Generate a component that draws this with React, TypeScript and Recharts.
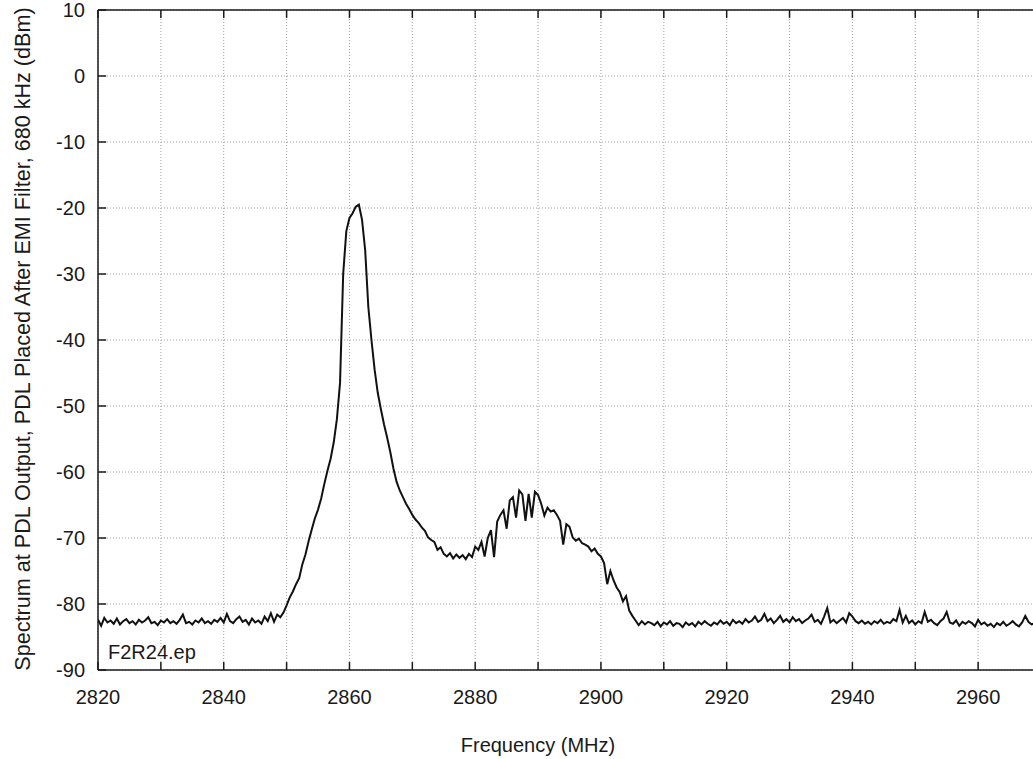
import React from 'react';
import { LineChart, Line, XAxis, YAxis, CartesianGrid, ReferenceLine } from 'recharts';

// sweep step of the analyser trace, MHz
const STEP = 0.5;

// 2820.0 .. 2848.5 MHz, noise floor before the main line
const baselineLow = [
  -82.4, -83.3, -82.1, -82.8, -82.5, -83.0, -82.2, -83.1, -82.6, -82.3,
  -82.9, -82.6, -83.1, -82.4, -82.8, -82.5, -82.0, -82.9, -82.7, -83.2,
  -82.5, -82.8, -82.3, -82.9, -82.6, -83.0, -82.4, -81.6, -82.9, -82.7,
  -83.1, -82.5, -82.8, -82.2, -82.9, -82.6, -83.0, -82.4, -82.7, -82.1,
  -82.8, -81.5, -82.6, -82.9, -82.3, -81.9, -82.7, -82.4, -83.1, -82.2,
  -82.8, -82.5, -83.0, -81.9, -82.6, -81.4, -82.7, -81.6,
];

// 2849.0 .. 2875.0 MHz, main line
const mainPeak = [
  -82.0, -81.3, -80.2, -79.0, -78.1, -77.0, -76.1, -74.0, -72.5, -70.5,
  -68.7, -67.0, -65.7, -64.0, -61.8, -59.8, -58.0, -55.5, -52.0, -46.5,
  -30.0, -23.5, -21.5, -20.8, -19.8, -19.5, -21.8, -26.4, -35.0, -40.0,
  -44.5, -48.0, -50.5, -52.8, -54.8, -57.0, -59.5, -61.5, -62.8, -63.8,
  -64.8, -65.6, -66.5, -67.2, -67.7, -68.4, -68.9, -69.9, -70.3, -70.6,
  -71.8, -71.4, -72.4,
];

// 2875.5 .. 2907.5 MHz, valley and second hump
const secondHump = [
  -72.8, -72.3, -73.1, -72.5, -73.0, -72.6, -73.2, -72.4, -72.9, -71.3,
  -71.8, -70.6, -72.8, -70.0, -68.8, -72.9, -67.5, -66.5, -65.8, -68.6,
  -64.3, -63.8, -66.9, -62.8, -63.4, -67.4, -63.3, -66.9, -63.0, -63.5,
  -64.8, -66.6, -65.4, -66.0, -65.8, -66.5, -67.4, -71.0, -67.9, -68.3,
  -69.9, -70.4, -70.1, -70.8, -71.0, -71.3, -72.0, -71.6, -72.4, -72.8,
  -73.8, -77.0, -75.0, -76.4, -77.5, -78.2, -79.6, -78.8, -81.0, -81.8,
  -82.5, -83.2, -82.6, -83.1, -82.7,
];

// 2908.0 .. 2970.0 MHz, noise floor after the hump
const baselineHigh = [
  -82.9, -83.2, -82.7, -83.4, -82.8, -83.1, -82.6, -83.3, -82.9, -83.0,
  -83.5, -82.8, -83.2, -82.9, -83.4, -82.7, -83.1, -82.6, -83.0, -83.3,
  -82.8, -83.1, -82.5, -83.0, -82.7, -83.2, -82.4, -82.9, -82.6, -83.0,
  -82.3, -82.8, -82.5, -81.9, -82.7, -82.4, -81.5, -82.6, -82.2, -82.9,
  -82.4, -81.8, -82.7, -82.3, -82.8, -82.0, -82.6, -82.3, -82.9, -82.5,
  -82.2, -81.6, -82.7, -82.4, -83.0, -81.9, -80.6, -82.8, -82.4, -82.9,
  -82.5, -82.1, -82.8, -81.4, -81.9, -82.6, -82.9, -82.5, -83.0, -82.7,
  -83.1, -82.6, -82.9, -82.4, -83.0, -82.7, -82.9, -82.3, -82.6, -80.9,
  -82.8, -81.8, -82.9, -82.5, -83.1, -82.6, -82.9, -81.2, -82.7, -82.4,
  -82.9, -83.2, -82.6, -82.2, -81.2, -82.8, -83.0, -82.5, -83.3, -82.7,
  -83.0, -82.6, -82.9, -83.4, -82.4, -83.1, -82.8, -83.3, -83.0, -83.5,
  -82.9, -83.2, -82.7, -83.3, -83.0, -82.6, -83.1, -83.4, -82.8, -81.8,
  -82.7, -83.1, -82.9, -83.2, -83.0,
];

const segments = [
  { start: 2820, values: baselineLow },
  { start: 2849, values: mainPeak },
  { start: 2875.5, values: secondHump },
  { start: 2908, values: baselineHigh },
];

const xTicks = [2820, 2830, 2840, 2850, 2860, 2870, 2880, 2890, 2900, 2910, 2920, 2930, 2940, 2950, 2960, 2970];
const yTicks = [-90, -80, -70, -60, -50, -40, -30, -20, -10, 0, 10];

const data = segments.flatMap((s) => s.values.map((v, i) => ({ f: s.start + i * STEP, dbm: v })));

const X_MIN = 2820;
const X_MAX = 2970;
const Y_MIN = -90;
const Y_MAX = 10;
// inward tick length in data units (about 8px)
const TICK_DB = 1.2;
const TICK_MHZ = 1.3;

const FONT = '"Liberation Sans", Arial, Helvetica, sans-serif';
const INK = '#1a1a1a';

const YTitle = () => (
  <g>
    <text
      x={22}
      y={339}
      transform="rotate(-90 22 339)"
      textAnchor="middle"
      dominantBaseline="central"
      fontSize={21.6}
      fontFamily={FONT}
      fill={INK}
    >
      Spectrum at PDL Output, PDL Placed After EMI Filter, 680 kHz (dBm)
    </text>
    <text x={108} y={659} fontSize={20} fontFamily={FONT} fill={INK}>
      F2R24.ep
    </text>
  </g>
);

const XTitle = () => (
  <text x={538} y={752} textAnchor="middle" fontSize={20} fontFamily={FONT} fill={INK}>
    Frequency (MHz)
  </text>
);

export default function App() {
  return (
    <div
      style={{
        position: 'absolute',
        left: 0,
        top: 0,
        width: 1033,
        height: 759,
        overflow: 'hidden',
        background: '#fff',
        fontFamily: FONT,
      }}
    >
      <LineChart width={1041} height={759} data={data} margin={{ top: 0, right: 0, bottom: 0, left: 0 }}>
        <CartesianGrid stroke="#a0a0a0" strokeDasharray="1 2" />
        <XAxis
          xAxisId="top"
          orientation="top"
          dataKey="f"
          type="number"
          domain={[X_MIN, X_MAX]}
          ticks={xTicks}
          height={10}
          tick={false}
          tickLine={false}
          stroke={INK}
          strokeWidth={1.5}
          allowDataOverflow
          interval={0}
        />
        <XAxis
          dataKey="f"
          type="number"
          domain={[X_MIN, X_MAX]}
          ticks={xTicks}
          tickFormatter={(v: number) => ((v - X_MIN) % 20 === 0 ? String(v) : '')}
          height={89}
          tickSize={-8}
          tickMargin={28}
          tickLine={false}
          tick={{ fill: INK, fontSize: 20, fontFamily: FONT }}
          stroke={INK}
          strokeWidth={1.5}
          allowDataOverflow
          interval={0}
          label={<XTitle />}
        />
        <YAxis
          type="number"
          domain={[Y_MIN, Y_MAX]}
          ticks={yTicks}
          width={98}
          tickSize={-8}
          tickMargin={21}
          tickLine={false}
          tick={{ fill: INK, fontSize: 20, fontFamily: FONT }}
          stroke={INK}
          strokeWidth={1.5}
          allowDataOverflow
          interval={0}
          label={<YTitle />}
        />
        {xTicks.map((t) => (
          <ReferenceLine
            key={`bt${t}`}
            segment={[{ x: t, y: Y_MIN }, { x: t, y: Y_MIN + TICK_DB }]}
            stroke={INK}
            strokeWidth={1.5}
          />
        ))}
        {xTicks.map((t) => (
          <ReferenceLine
            key={`tt${t}`}
            segment={[{ x: t, y: Y_MAX }, { x: t, y: Y_MAX - TICK_DB }]}
            stroke={INK}
            strokeWidth={1.5}
          />
        ))}
        {yTicks.map((t) => (
          <ReferenceLine
            key={`lt${t}`}
            segment={[{ x: X_MIN, y: t }, { x: X_MIN + TICK_MHZ, y: t }]}
            stroke={INK}
            strokeWidth={1.5}
          />
        ))}
        <Line
          type="linear"
          dataKey="dbm"
          stroke="#111"
          strokeWidth={2}
          dot={false}
          isAnimationActive={false}
        />
      </LineChart>
    </div>
  );
}
